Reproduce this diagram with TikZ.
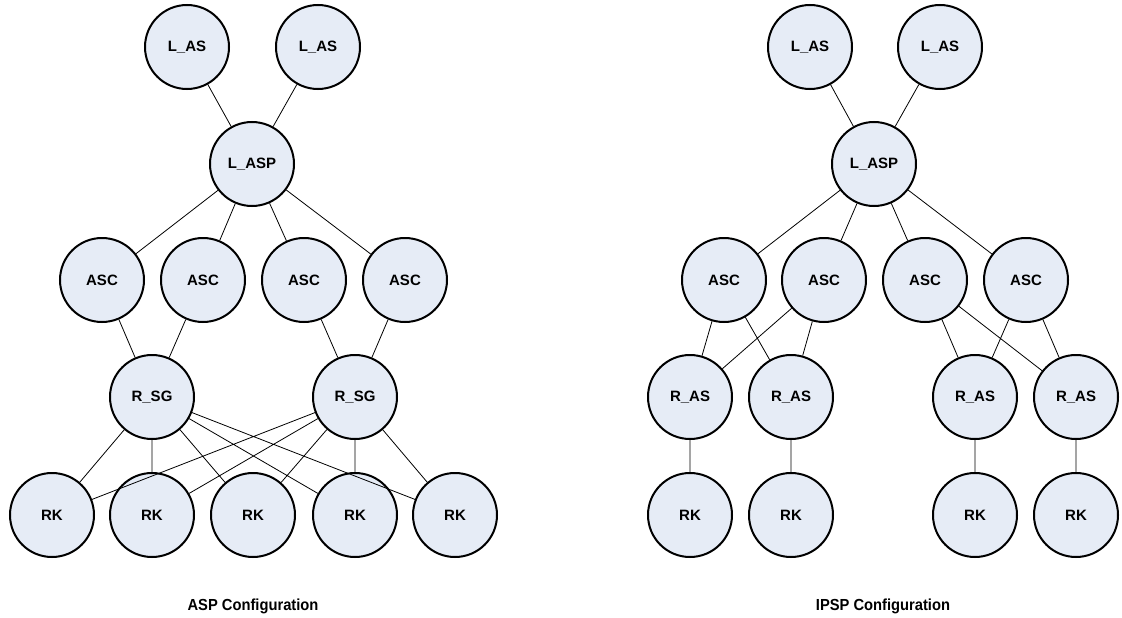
\documentclass[tikz,border=0pt]{standalone}
\usepackage{fontspec}
\setmainfont{Liberation Sans}
\newfontfamily\captfont[FakeStretch=0.92]{Liberation Sans}
\definecolor{nodefill}{HTML}{E6ECF6}
\begin{document}
\begin{tikzpicture}[x=1pt,y=-1pt,
  nd/.style={circle,draw=black,line width=2pt,fill=nodefill,minimum size=84pt,inner sep=0pt,
    font=\fontsize{15}{17}\selectfont\bfseries},
  ln/.style={draw=black,line width=0.8pt},
  captxt/.style={font=\captfont\fontsize{16}{18}\selectfont\bfseries}]
\useasboundingbox (0,0) rectangle (1122,618);
% ---------- left: ASP ----------
\node[nd] (la1) at (187,47) {L\_AS};
\node[nd] (la2) at (318,47) {L\_AS};
\node[nd] (lp) at (252,164) {L\_ASP};
\node[nd] (a1) at (102,280) {ASC};
\node[nd] (a2) at (203,280) {ASC};
\node[nd] (a3) at (304,280) {ASC};
\node[nd] (a4) at (405,280) {ASC};
\node[nd] (s1) at (152,397) {R\_SG};
\node[nd] (s2) at (355,397) {R\_SG};
\node[nd] (k1) at (52,515) {RK};
\node[nd] (k2) at (152,515) {RK};
\node[nd] (k3) at (253,515) {RK};
\node[nd] (k4) at (355,515) {RK};
\node[nd] (k5) at (455,515) {RK};
\node[captxt] (c1) at (253,606) {ASP Configuration};
% ---------- right: IPSP ----------
\node[nd] (rla1) at (810,47) {L\_AS};
\node[nd] (rla2) at (940,47) {L\_AS};
\node[nd] (rlp) at (874,164) {L\_ASP};
\node[nd] (b1) at (724,280) {ASC};
\node[nd] (b2) at (824,280) {ASC};
\node[nd] (b3) at (925,280) {ASC};
\node[nd] (b4) at (1026,280) {ASC};
\node[nd] (r1) at (690,397) {R\_AS};
\node[nd] (r2) at (791,397) {R\_AS};
\node[nd] (r3) at (975,397) {R\_AS};
\node[nd] (r4) at (1076,397) {R\_AS};
\node[nd] (q1) at (690,515) {RK};
\node[nd] (q2) at (791,515) {RK};
\node[nd] (q3) at (975,515) {RK};
\node[nd] (q4) at (1076,515) {RK};
\node[captxt] (c2) at (883,606) {IPSP Configuration};
% ---------- edges ----------
\path[ln] (la1) -- (lp) (la2) -- (lp)
  (lp) -- (a1) (lp) -- (a2) (lp) -- (a3) (lp) -- (a4)
  (a1) -- (s1) (a2) -- (s1) (a3) -- (s2) (a4) -- (s2)
  (s1) -- (k1) (s1) -- (k2) (s1) -- (k3) (s1) -- (k4) (s1) -- (k5)
  (s2) -- (k1) (s2) -- (k2) (s2) -- (k3) (s2) -- (k4) (s2) -- (k5);
\path[ln] (rla1) -- (rlp) (rla2) -- (rlp)
  (rlp) -- (b1) (rlp) -- (b2) (rlp) -- (b3) (rlp) -- (b4)
  (b1) -- (r1) (b1) -- (r2) (b2) -- (r1) (b2) -- (r2)
  (b3) -- (r3) (b3) -- (r4) (b4) -- (r3) (b4) -- (r4)
  (r1) -- (q1) (r2) -- (q2) (r3) -- (q3) (r4) -- (q4);
\end{tikzpicture}
\end{document}
